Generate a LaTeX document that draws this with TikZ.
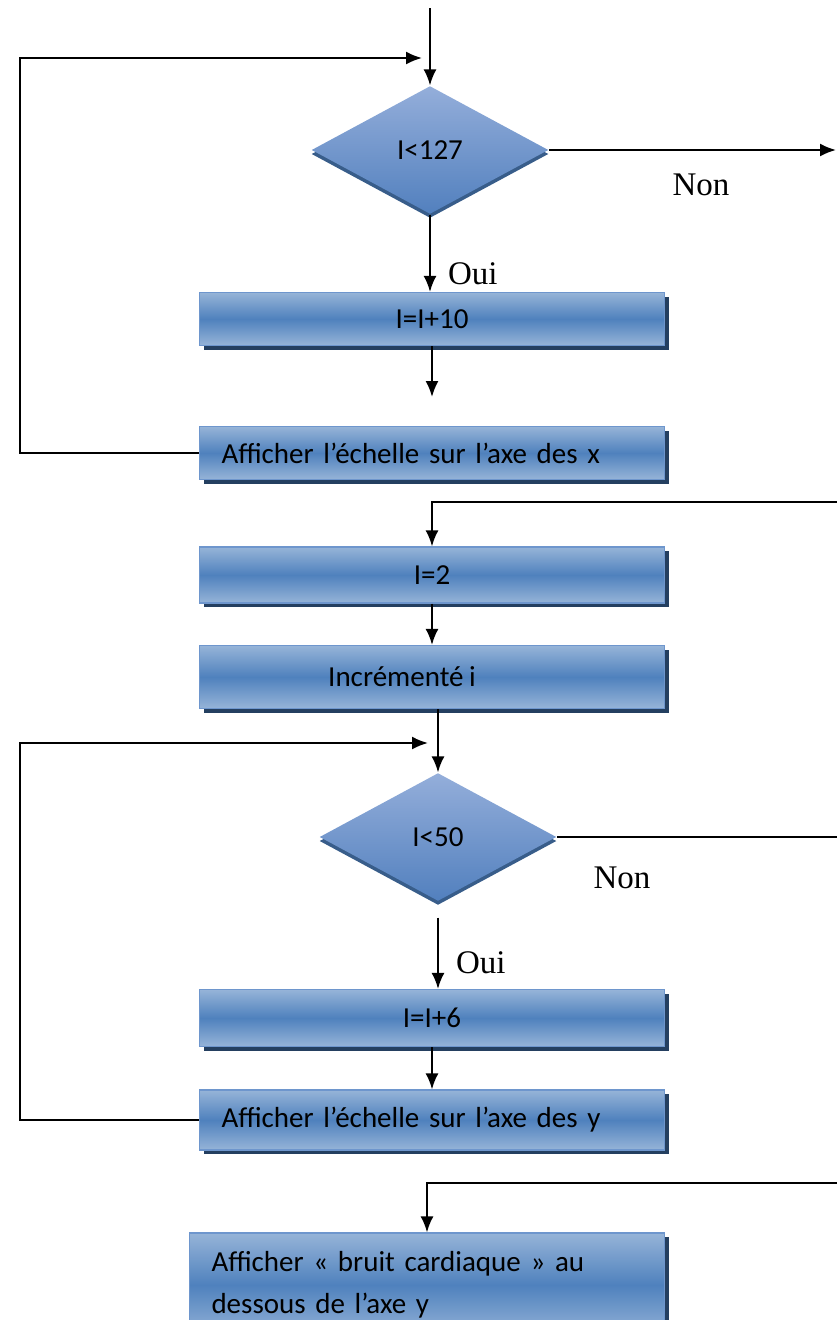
\documentclass[tikz,border=0pt]{standalone}
\usepackage{fontspec}
\setmainfont{Liberation Serif}
\newfontfamily\boxfont[WordSpace=0.85]{Carlito}
\usetikzlibrary{arrows.meta,shapes.geometric,positioning,shadows}

\definecolor{boxlight}{RGB}{150,180,216}
\definecolor{boxmid}{RGB}{79,129,189}
\definecolor{boxedge}{RGB}{110,150,205}
\definecolor{boxshadow}{RGB}{36,63,96}
\definecolor{dlight}{RGB}{148,174,218}
\definecolor{dmid}{RGB}{82,128,190}
\definecolor{dshadow}{RGB}{56,93,138}

\begin{document}
\begin{tikzpicture}[x=1pt, y=-1pt, line width=2pt,
		basic/.style    = {draw=boxedge, line width=1.2pt, inner sep=0pt, text=black, font=\boxfont\fontsize{29}{42}\selectfont},
		process/.style  = {basic, rectangle, minimum width=465pt, top color=boxlight, bottom color=boxlight, middle color=boxmid,
		                   drop shadow={shadow xshift=4pt, shadow yshift=-4pt, fill=boxshadow, opacity=1}},
		processl/.style = {process, text width=421pt, align=left},
		decision/.style = {basic, draw=none, diamond, aspect=1.85, minimum width=237pt, minimum height=128pt,
		                   top color=dlight, bottom color=dmid,
		                   drop shadow={shadow xshift=0pt, shadow yshift=-4pt, fill=dshadow, opacity=1}},
		lbl/.style      = {inner sep=0pt, font=\fontsize{33}{40}\selectfont},
		>={Latex[length=16pt,width=13pt]}]

		\useasboundingbox (0,0) rectangle (837,1320);
		\clip (0,0) rectangle (837,1320);

		% first loop, axis x
		\node[decision] (d1) at (430,150) {I<127};
		\node[process, minimum height=53pt] (b1) at (432,319) {I=I+10};
		\node[processl, minimum height=53pt] (b2) at (432,453) {Afficher l’échelle sur l’axe des x};

		% second loop, axis y
		\node[process, minimum height=56pt] (b3) at (432,575) {I=2};
		\node[process, minimum height=63pt] (b4) at (432,677) {Incrémenté i\hspace*{60pt}};
		\node[decision] (d2) at (438,837) {I<50};
		\node[process, minimum height=57pt] (b5) at (432,1018) {I=I+6};
		\node[processl, minimum height=60pt] (b6) at (432,1120) {Afficher l’échelle sur l’axe des y};

		% last box, cut by the page
		\node[process, minimum width=475pt, minimum height=104pt, text width=431pt, align=left] (b7) at (427,1285)
			{Afficher « bruit cardiaque » au\\dessous de l’axe y};

		% labels of the branches
		\node[lbl, anchor=base] (non1) at (701,195) {Non};
		\node[lbl, anchor=base west] (oui1) at (447,284) {Oui};
		\node[lbl, anchor=base] (non2) at (622,888) {Non};
		\node[lbl, anchor=base west] (oui2) at (455,973) {Oui};

		% free ends of the connectors
		\coordinate (top) at (430,8);
		\coordinate (lft1) at (20,58);
		\coordinate (in1) at (422,58);
		\coordinate (out1) at (836,150);
		\coordinate (e1) at (432,397);
		\coordinate (r1) at (838,502);
		\coordinate (lft2) at (20,743);
		\coordinate (in2) at (428,743);
		\coordinate (r2) at (838,837);
		\coordinate (r3) at (838,1183);

		\draw[->] (top) -- (d1.north);
		\draw[->] (b2.west) -| (lft1) -- (in1);
		\draw[->] (d1.east) -- (out1);
		\draw[->] (d1.south) -- (d1.south |- b1.north);
		\draw[->] (b1.south) -- (e1);
		\draw[->] (r1) -| (b3.north);

		\foreach \from/\to in {b3/b4, b5/b6}
		\draw[->] (\from.south) -- (\to.north);

		\draw[->] (b4.south -| d2.north) -- (d2.north);
		\draw[->] (b6.west) -| (lft2) -- (in2);
		\draw (d2.east) -- (r2);
		\draw[->, shorten <=16pt] (d2.south) -- (d2.south |- b5.north);
		\draw[->] (r3) -| (b7.north);

	\end{tikzpicture}
\end{document}
